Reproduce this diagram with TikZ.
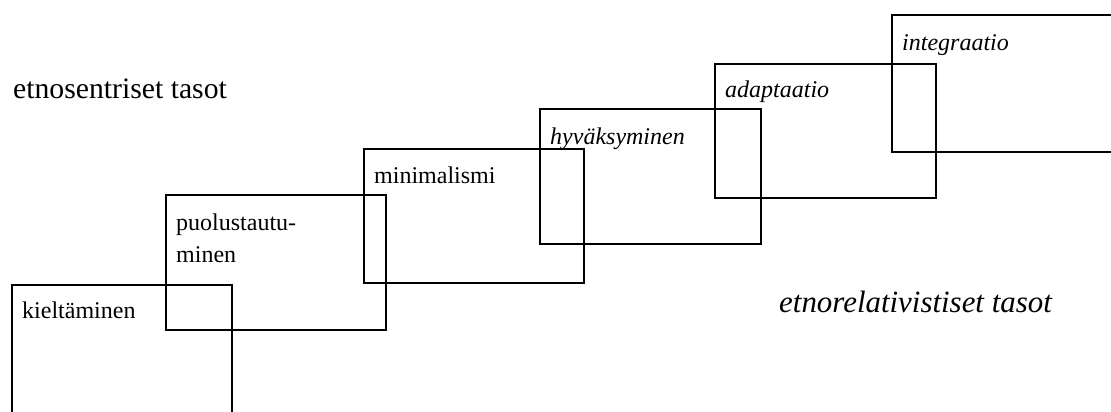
\documentclass[tikz,border=0pt]{standalone}
\usepackage{fontspec}
\setmainfont{Liberation Serif}
\tikzset{
  stage/.style={draw=black, line width=1.6pt, rectangle, anchor=north west, inner sep=0pt},
  lbl/.style={anchor=base west, inner sep=0pt, font=\fontsize{24}{30}\selectfont},
  ilbl/.style={lbl, font=\fontsize{24}{30}\selectfont\itshape},
  head/.style={anchor=base west, inner sep=0pt, font=\fontsize{29.7}{36}\selectfont},
  ihead/.style={anchor=base west, inner sep=0pt, font=\fontsize{30.9}{36}\selectfont\itshape}
}
\begin{document}
\begin{tikzpicture}[x=1pt,y=-1pt]
\useasboundingbox (0,0) rectangle (1111,412);
\fill[white] (0,0) rectangle (1111,412);
\begin{scope}
\clip (0,0) rectangle (1111,412);
\node[stage, minimum width=220pt, minimum height=150pt] (b1) at (11,284) {};
\node[stage, minimum width=220pt, minimum height=135pt] (b2) at (165,194) {};
\node[stage, minimum width=220pt, minimum height=134pt] (b3) at (363,148) {};
\node[stage, minimum width=221pt, minimum height=135pt] (b4) at (539,108) {};
\node[stage, minimum width=221pt, minimum height=134pt] (b5) at (714,63) {};
\node[stage, minimum width=240pt, minimum height=137pt] (b6) at (891,14) {};
\end{scope}
\node[lbl] (t1) at (22,318) {kieltäminen};
\node[lbl] (t2a) at (176,230) {puolustautu-};
\node[lbl] (t2b) at (176,262) {minen};
\node[lbl] (t3) at (374,183) {minimalismi};
\node[ilbl] (t4) at (550,144) {hyväksyminen};
\node[ilbl] (t5) at (725,97) {adaptaatio};
\node[ilbl] (t6) at (902,51) {integraatio};
\node[head] (h1) at (13,98) {etnosentriset tasot};
\node[ihead] (h2) at (779,312) {etnorelativistiset tasot};
\end{tikzpicture}
\end{document}
